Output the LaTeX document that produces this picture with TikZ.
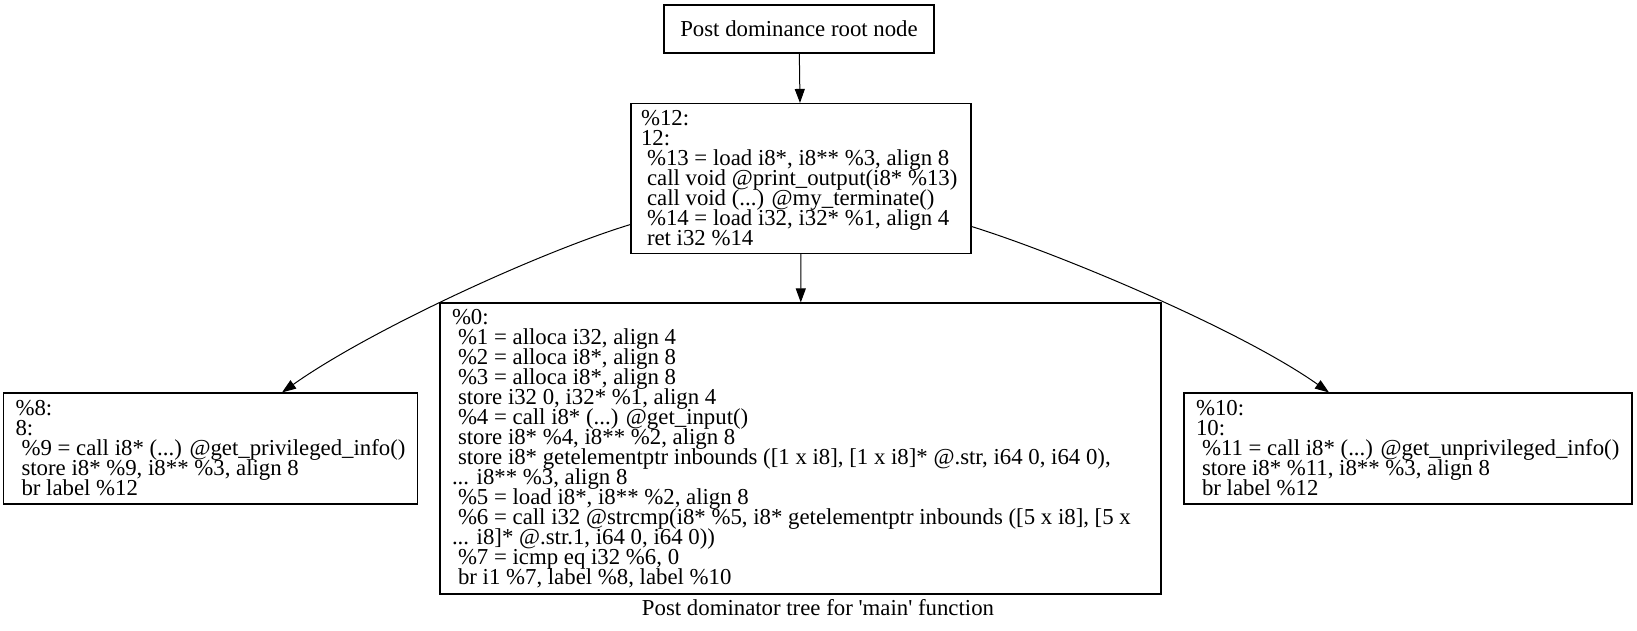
\documentclass[tikz,border=0pt]{standalone}
\usepackage{fontspec}
\setmainfont{Liberation Serif}[Ligatures=TeXOff]
\usetikzlibrary{arrows.meta}
\newcommand{\ind}{\hspace*{6pt}}
\newcommand{\gvf}{\fontsize{22.8}{20}\selectfont\lineskiplimit -100pt\relax}
\begin{document}
\begin{tikzpicture}[x=1pt,y=-1pt,
  gvfont/.style={font=\gvf},
  box/.style={draw, line width=1.1pt, rectangle, inner xsep=12pt, inner ysep=0pt, align=left, gvfont},
  edge/.style={line width=1pt, -{Triangle[length=14pt,width=10pt]}}]
\useasboundingbox (0,0) rectangle (1637,631);

\node[box, align=center, minimum width=270pt, minimum height=48pt] (root) at (799,29) {Post dominance root node};

\node[box, inner xsep=10pt, minimum width=340pt, minimum height=150pt] (n12) at (801,178.5) {\makebox[320pt][l]{\%12:}\\12:\\
\ind\%13 = load i8*, i8** \%3, align 8\\
\ind call void @print\_output(i8* \%13)\\
\ind call void (...) @my\_terminate()\\
\ind\%14 = load i32, i32* \%1, align 4\\
\ind ret i32 \%14};

\node[box, minimum width=411pt, minimum height=111pt] (n8) at (210.5,448.5) {\makebox[387pt][l]{\%8:}\\8:\\
\ind\%9 = call i8* (...) @get\_privileged\_info()\\
\ind store i8* \%9, i8** \%3, align 8\\
\ind br label \%12};

\node[box, minimum width=721pt, minimum height=291pt] (n0) at (800.5,448.5) {\makebox[697pt][l]{\%0:}\\
\ind\%1 = alloca i32, align 4\\
\ind\%2 = alloca i8*, align 8\\
\ind\%3 = alloca i8*, align 8\\
\ind store i32 0, i32* \%1, align 4\\
\ind\%4 = call i8* (...) @get\_input()\\
\ind store i8* \%4, i8** \%2, align 8\\
\ind store i8* getelementptr inbounds ([1 x i8], [1 x i8]* @.str, i64 0, i64 0),\\
... i8** \%3, align 8\\
\ind\%5 = load i8*, i8** \%2, align 8\\
\ind\%6 = call i32 @strcmp(i8* \%5, i8* getelementptr inbounds ([5 x i8], [5 x\\
... i8]* @.str.1, i64 0, i64 0))\\
\ind\%7 = icmp eq i32 \%6, 0\\
\ind br i1 \%7, label \%8, label \%10};

\node[box, minimum width=448pt, minimum height=111pt] (n10) at (1408,448.5) {\makebox[424pt][l]{\%10:}\\10:\\
\ind\%11 = call i8* (...) @get\_unprivileged\_info()\\
\ind store i8* \%11, i8** \%3, align 8\\
\ind br label \%12};

\node[gvfont] (cap) at (818,608) {Post dominator tree for 'main' function};

\draw[edge] (root) -- (n12);
\draw[edge] (n12) -- (n0);
\draw[edge] ([yshift=-46pt]n12.west) .. controls (540,252) and (370,330) .. ([xshift=71.5pt]n8.north);
\draw[edge] ([yshift=-48pt]n12.east) .. controls (1060,254) and (1241,330) .. ([xshift=-79pt]n10.north);
\end{tikzpicture}
\end{document}
